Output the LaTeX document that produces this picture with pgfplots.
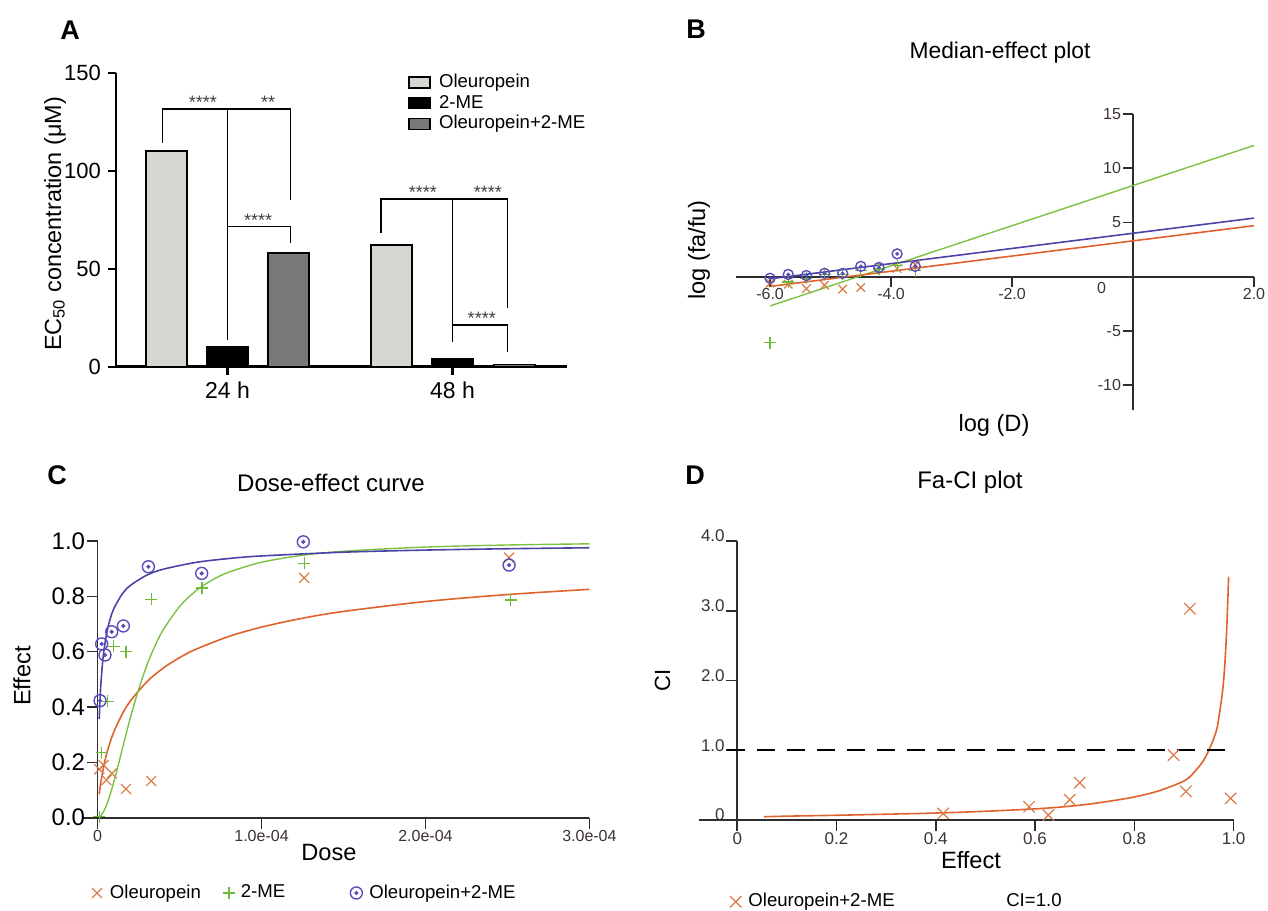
\documentclass[border=0pt]{standalone}
\usepackage{fontspec}
\setmainfont{Liberation Sans}
\usepackage{pgfplots}
\pgfplotsset{compat=1.18}

\definecolor{olegray}{RGB}{212,214,208}
\definecolor{combogray}{RGB}{121,121,121}
\definecolor{axcol}{RGB}{45,45,45}
\definecolor{tickcol}{RGB}{60,50,50}
\definecolor{lorange}{RGB}{224,98,44}
\definecolor{morange}{RGB}{219,122,72}
\definecolor{lgreen}{RGB}{125,193,66}
\definecolor{mgreen}{RGB}{110,187,58}
\definecolor{lblue}{RGB}{74,68,168}
\definecolor{mblue}{RGB}{90,77,186}

\newcommand\fs[1]{\fontsize{#1}{#1}\selectfont}

\pgfdeclareplotmark{odot}{%
  \pgfpathcircle{\pgfpointorigin}{\pgfplotmarksize}\pgfusepathqstroke
  \pgfpathcircle{\pgfpointorigin}{0.22\pgfplotmarksize}\pgfusepathqfillstroke}

\pgfplotsset{
  /pgf/number format/assume math mode=true,
  every axis/.append style={scale only axis, anchor=south west, clip=false},
  barleg/.style={legend image code/.code={\draw[##1,line width=0.8pt] (0pt,-2.75pt) rectangle (10.5pt,2.75pt);}},
  markleg/.style={legend image code/.code={\draw[##1] plot coordinates {(0pt,0pt)};}},
  % axes drawn through the origin, y ticks pointing left
  midaxes/.style={
    axis lines=middle, axis line style={-, line width=0.9pt, color=axcol},
    tick align=center, major tick length=#1,
    tick style={line width=0.8pt, color=axcol},
    xtick style={yshift=-0.5*#1}, ytick style={xshift=-0.5*#1}},
}
% downward x ticks for the axes through the origin
\newcommand\downticks[2]{\pgfplotsinvokeforeach{#1}{\draw[axcol, line width=0.8pt] (axis cs:##1,0) -- ++(0pt,-#2);}}

\begin{document}
\begin{tikzpicture}
\useasboundingbox (0,0) rectangle (634pt,-455pt);

% ---------- A: EC50 bars ----------
\begin{axis}[
  at={(58pt,-183.35pt)}, width=225.5pt, height=147pt,
  xmin=-0.496, xmax=1.509, ymin=0, ymax=150,
  axis x line=bottom, axis y line=left,
  axis line style={-, line width=1.4pt},
  xtick={0,1}, xticklabels={24 h,48 h},
  ytick={0,50,100,150},
  tick align=outside, major tick length=4pt,
  tick style={line width=1.1pt, black},
  yticklabel style={font=\fs{11}},
  xticklabel style={font=\fs{11.5}},
  legend style={at={(rel axis cs:0.6475,0.999)}, anchor=north west, draw=none, fill=none,
    inner sep=0pt, row sep=1.6pt, column sep=4pt, font=\fs{9.3},
    nodes={inner sep=0pt, text height=6.9pt, text depth=1.9pt}},
  legend cell align=left,
]
\addplot[ybar, bar shift=0pt, bar width=0.182, fill=olegray, draw=black, line width=0.8pt, barleg]
  coordinates {(-0.271,110) (0.729,62)};
\addlegendentry{Oleuropein}
\addplot[ybar, bar shift=0pt, bar width=0.182, fill=black, draw=black, line width=0.8pt, barleg]
  coordinates {(0,10) (1,4)};
\addlegendentry{2-ME}
\addplot[ybar, bar shift=0pt, bar width=0.182, fill=combogray, draw=black, line width=0.8pt, barleg]
  coordinates {(0.271,58) (1.276,1.2)};
\addlegendentry{Oleuropein+2-ME}

% significance brackets
\draw[line width=0.7pt] (axis cs:-0.288,114.3) |- (axis cs:0.281,131.5) -- (axis cs:0.281,85);
\draw[line width=0.7pt] (axis cs:0,131.5) -- (axis cs:0,13.6);
\draw[line width=0.7pt] (axis cs:0,71.4) -| (axis cs:0.281,63);
\draw[line width=0.7pt] (axis cs:0.682,68) |- (axis cs:1.244,85.6) -- (axis cs:1.244,29.8);
\draw[line width=0.7pt] (axis cs:1,85.6) -- (axis cs:1,12.8);
\draw[line width=0.7pt] (axis cs:1,21.3) -| (axis cs:1.244,7.7);
\begin{scope}[every node/.style={font=\fs{9}, text=black!75, anchor=base, inner sep=0pt}]
\node at (axis cs:-0.11,131.5) {****};
\node at (axis cs:0.18,131.5) {**};
\node at (axis cs:0.136,71.4) {****};
\node at (axis cs:0.868,85.6) {****};
\node at (axis cs:1.157,85.6) {****};
\node at (axis cs:1.13,21.3) {****};
\end{scope}
\end{axis}

% ---------- B: median-effect plot ----------
\begin{axis}[
  at={(367.8pt,-205pt)}, width=259.2pt, height=148pt,
  xmin=-6.57, xmax=2, ymin=-12.3, ymax=15,
  midaxes=5pt,
  xtick={-6,-4,-2,2}, xticklabels={-6.0,-4.0,-2.0,2.0},
  ytick={-10,-5,5,10,15},
  ticklabel style={font=\fs{8}, text=tickcol},
]
\addplot[lgreen, line width=0.7pt] coordinates {(-6,-2.7) (2,12.1)};
\addplot[lblue, line width=0.8pt] coordinates {(-6,-0.2) (2,5.4)};
\addplot[lorange, line width=0.8pt] coordinates {(-6,-0.9) (2,4.7)};
\addplot[only marks, mark=x, mark size=3pt, morange, line width=0.6pt]
  coordinates {(-6.0,-0.6) (-5.7,-0.7) (-5.4,-1.1) (-5.1,-0.8) (-4.8,-1.15) (-4.5,-1.0) (-3.9,0.75) (-3.6,1.1)};
\addplot[only marks, mark=+, mark size=3pt, mgreen, line width=0.6pt]
  coordinates {(-6.0,-6.1) (-5.7,-0.5) (-5.4,-0.15) (-5.1,0.2) (-4.8,0.2) (-4.5,0.55) (-4.2,0.7) (-3.9,1.0) (-3.6,0.55)};
\addplot[only marks, mark=odot, mark size=2.5pt, mblue, line width=0.7pt]
  coordinates {(-6.0,-0.15) (-5.7,0.2) (-5.4,0.1) (-5.1,0.3) (-4.8,0.3) (-4.5,0.95) (-4.2,0.85) (-3.9,2.1) (-3.6,0.95)};
\downticks{-6,-4,-2,2}{4.5pt}
\node[font=\fs{8}, text=tickcol] at (axis cs:-0.52,-1.04) {0};
\end{axis}

% ---------- C: dose-effect curve ----------
\begin{axis}[
  at={(41.5pt,-408.85pt)}, width=253.2pt, height=138.35pt,
  xmin=-8.9e-6, xmax=3e-4, ymin=0, ymax=1,
  midaxes=5.5pt,
  hide obscured x ticks=false, hide obscured y ticks=false,
  scaled x ticks=false,
  xtick={0,1e-4,2e-4,3e-4}, xticklabels={0,1.0e-04,2.0e-04,3.0e-04},
  ytick={0,0.2,0.4,0.6,0.8,1.0}, yticklabels={0.0,0.2,0.4,0.6,0.8,1.0},
  xticklabel style={font=\fs{8}, text=tickcol},
  yticklabel style={font=\fs{12}},
  markleg,
  legend style={at={(rel axis cs:0.017,-0.272)}, anchor=west, draw=none, fill=none,
    inner sep=0pt, font=\fs{9.3}, legend columns=3,
    /tikz/column 1/.style={column sep=2pt},
    /tikz/column 2/.style={column sep=9pt},
    /tikz/column 3/.style={column sep=1pt},
    /tikz/column 4/.style={column sep=30.5pt},
    /tikz/column 5/.style={column sep=1.5pt}},
]
\addplot[lorange, line width=0.8pt, smooth, forget plot] coordinates {
 (1e-6,0.0845) (2e-6,0.1296) (4e-6,0.1937) (6e-6,0.2411) (8e-6,0.2793) (1e-5,0.3113)
 (1.5e-5,0.3742) (2e-5,0.4217) (3e-5,0.4910) (4e-5,0.5406) (5e-5,0.5785) (6e-5,0.6088)
 (8e-5,0.6550) (1e-4,0.6889) (1.25e-4,0.7209) (1.5e-4,0.7455) (2e-4,0.7813) (2.5e-4,0.8065) (3e-4,0.8253)};
\addplot[lgreen, line width=0.7pt, smooth, forget plot] coordinates {
 (1e-6,0.0019) (2e-6,0.0071) (4e-6,0.0259) (6e-6,0.0543) (8e-6,0.0902) (1e-5,0.1316)
 (1.25e-5,0.1879) (1.5e-5,0.2466) (1.75e-5,0.3049) (2e-5,0.3612) (2.5e-5,0.4635) (3e-5,0.5499)
 (3.5e-5,0.6208) (4e-5,0.6785) (5e-5,0.7633) (6e-5,0.8201) (7e-5,0.8593) (8e-5,0.8873)
 (1e-4,0.9233) (1.25e-4,0.9484) (1.5e-4,0.9630) (2e-4,0.9782) (2.5e-4,0.9856) (3e-4,0.9898)};
\addplot[lblue, line width=0.8pt, smooth, forget plot] coordinates {
 (1e-6,0.3563) (1.5e-6,0.4287) (2e-6,0.4821) (3e-6,0.5579) (4e-6,0.6103) (6e-6,0.6797)
 (8e-6,0.7248) (1e-5,0.7569) (1.5e-5,0.8084) (2e-5,0.8396) (3e-5,0.8765) (4e-5,0.8980)
 (6e-5,0.9227) (8e-5,0.9367) (1e-4,0.9460) (1.5e-4,0.9596) (2e-4,0.9672) (2.5e-4,0.9721) (3e-4,0.9756)};
\addplot[only marks, mark=x, mark size=3.5pt, morange, line width=0.6pt] coordinates {
 (1e-6,0.175) (3.7e-6,0.19) (5.4e-6,0.136) (8.7e-6,0.16) (1.73e-5,0.104) (3.27e-5,0.133) (1.26e-4,0.867) (2.51e-4,0.94)};
\addlegendentry{Oleuropein}
\addplot[only marks, mark=+, mark size=3pt, mgreen, line width=0.6pt] coordinates {
 (1e-6,0.003) (2.4e-6,0.235) (6.2e-6,0.42) (9.9e-6,0.62) (1.73e-5,0.60) (3.27e-5,0.79) (6.37e-5,0.83) (1.26e-4,0.92) (2.52e-4,0.787)};
\addlegendentry{2-ME}
\addplot[only marks, mark=odot, mark size=3pt, mblue, line width=0.7pt] coordinates {
 (1.5e-6,0.423) (2.5e-6,0.628) (4.5e-6,0.588) (8.6e-6,0.672) (1.57e-5,0.693) (3.1e-5,0.907) (6.35e-5,0.883) (1.255e-4,0.997) (2.51e-4,0.913)};
\addlegendentry{Oleuropein+2-ME}
\downticks{1e-4,2e-4,3e-4}{3.5pt}
\end{axis}

% ---------- D: Fa-CI plot ----------
\begin{axis}[
  at={(349.5pt,-410pt)}, width=267.3pt, height=139.5pt,
  xmin=-0.077, xmax=1.0, ymin=0, ymax=4,
  midaxes=5.5pt,
  hide obscured x ticks=false, hide obscured y ticks=false,
  xtick={0,0.2,0.4,0.6,0.8,1.0}, xticklabels={0,0.2,0.4,0.6,0.8,1.0},
  ytick={0,1,2,3,4}, yticklabels={0,1.0,2.0,3.0,4.0},
  ticklabel style={font=\fs{8.5}, text=tickcol},
  yticklabel style={yshift=2.5pt},
  markleg,
  legend style={at={(rel axis cs:0.0574,-0.293)}, anchor=west, draw=none, fill=none,
    inner sep=0pt, font=\fs{9.3}, legend columns=2,
    /tikz/column 1/.style={column sep=1.5pt},
    /tikz/column 2/.style={column sep=51pt},
    /tikz/column 3/.style={column sep=0pt}},
]
\addplot[lorange, line width=0.8pt, smooth, forget plot] coordinates {
 (0.054,0.047) (0.1,0.055) (0.2,0.068) (0.3,0.083) (0.4,0.10) (0.5,0.125) (0.6,0.16)
 (0.65,0.185) (0.7,0.22) (0.75,0.27) (0.8,0.33) (0.85,0.42) (0.9,0.56) (0.92,0.68)
 (0.94,0.86) (0.955,1.08) (0.966,1.3) (0.972,1.55) (0.978,1.86) (0.982,2.2) (0.986,2.72) (0.99,3.49)};
\addplot[only marks, mark=x, mark size=4pt, morange, line width=0.6pt] coordinates {
 (0.415,0.095) (0.588,0.19) (0.627,0.07) (0.670,0.29) (0.690,0.535) (0.879,0.93) (0.912,3.03) (0.904,0.41) (0.994,0.31)};
\addlegendentry{Oleuropein+2-ME}
\addplot[black, line width=0.8pt, dash pattern=on 9pt off 6pt] coordinates {(-0.02,1) (1.0,1)};
\addlegendentry{CI=1.0}
\downticks{0.2,0.4,0.6,0.8,1.0}{3.5pt}
\end{axis}

% ---------- letters, titles and axis labels ----------
\begin{scope}[every node/.style={inner sep=0pt}]
\node[font=\bfseries\fs{13.5}] at (35pt,-15pt) {A};
\node[font=\bfseries\fs{13.5}] at (348pt,-14.5pt) {B};
\node[font=\bfseries\fs{13.5}] at (28.5pt,-237.5pt) {C};
\node[font=\bfseries\fs{13.5}] at (347.5pt,-237.5pt) {D};
\node[font=\fs{11.7}, rotate=90] at (27.5pt,-112pt) {EC\textsubscript{50} concentration (μM)};
\node[font=\fs{11.4}] at (500pt,-26.5pt) {Median-effect plot};
\node[font=\fs{11.8}, rotate=90] at (349.5pt,-125pt) {log (fa/fu)};
\node[font=\fs{11.8}] at (497pt,-212.5pt) {log (D)};
\node[font=\fs{12}] at (165.5pt,-241.5pt) {Dose-effect curve};
\node[font=\fs{11.8}, rotate=90] at (11pt,-338pt) {Effect};
\node[font=\fs{11.8}] at (164.5pt,-426pt) {Dose};
\node[font=\fs{12}] at (485pt,-241pt) {Fa-CI plot};
\node[font=\fs{11}, rotate=90] at (331.25pt,-340pt) {CI};
\node[font=\fs{11.8}] at (485.5pt,-430pt) {Effect};
\end{scope}
\end{tikzpicture}
\end{document}
